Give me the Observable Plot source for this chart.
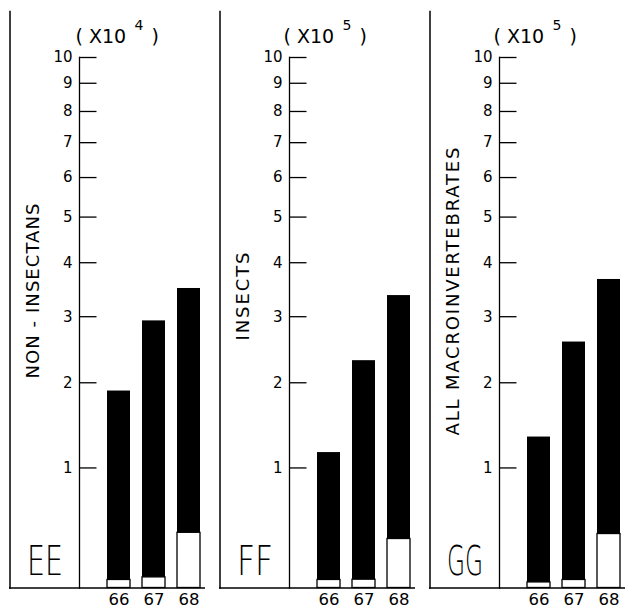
<!DOCTYPE html>
<html><head><meta charset="utf-8">
<script src="https://cdn.jsdelivr.net/npm/d3@7"></script>
<script src="https://cdn.jsdelivr.net/npm/@observablehq/plot@0.6"></script>
<style>
html,body{margin:0;padding:0;background:#fff;overflow:hidden}
#wrap{position:relative;width:625px;height:610px;overflow:hidden}
#wrap svg{position:absolute;top:0;max-width:none}
</style></head><body><div id="wrap"></div>
<script>
const years = ["66", "67", "68"];
const panelLetters = ["EE", "FF", "GG"];
const groupLabels = ["NON - INSECTANS", "INSECTS", "ALL MACROINVERTEBRATES"];
const exponents = ["4", "5", "5"];
const yTicks = [1, 2, 3, 4, 5, 6, 7, 8, 9, 10];
// totals per year (black bars, in units of the panel multiplier)
const totalsEE = [1.89, 2.93, 3.50];
const totalsFF = [1.16, 2.31, 3.37];
const totalsGG = [1.33, 2.59, 3.67];
// lower (white) portion per year
const whitesEE = [0.055, 0.073, 0.41];
const whitesFF = [0.055, 0.057, 0.36];
const whitesGG = [0.038, 0.055, 0.40];

const totals = [totalsEE, totalsFF, totalsGG];
const whites = [whitesEE, whitesFF, whitesGG];
const labelLen = [175, 88, 288];
const labelCenter = [290.5, 296, 291];
const font = "'DejaVu Sans', sans-serif";
const wrap = document.getElementById("wrap");

panelLetters.forEach((letter, i) => {
  const data = years.map((yr, j) => ({year: yr, total: totals[i][j], white: whites[i][j]}));
  const mTop = 57, mBot = 22.5, H = 610;
  const frameMid = (mTop + (H - mBot)) / 2;
  const chart = Plot.plot({
    width: 210, height: H,
    marginLeft: 79, marginRight: 10, marginTop: mTop, marginBottom: mBot,
    style: {fontFamily: font, fontSize: "15px", background: "transparent", color: "#000"},
    x: {domain: years, range: [107, 200.5], paddingInner: 0.33, paddingOuter: 0, label: null, axis: null},
    y: {type: "symlog", constant: 2, domain: [0, 10], label: null, axis: null},
    marks: [
      Plot.barY(data, {x: "year", y1: 0, y2: "total", fill: "#000"}),
      Plot.barY(data, {x: "year", y1: 0, y2: "white", fill: "#fff", stroke: "#000", strokeWidth: 1.3}),
      Plot.text(yTicks, {y: d => d, text: d => String(d), frameAnchor: "left", textAnchor: "end", dx: -7, fontSize: 15}),
      Plot.tickY(yTicks, {y: d => d, insetRight: 103.5, stroke: "#000", strokeWidth: 1.3}),
      Plot.text(years, {x: d => d, text: d => d, frameAnchor: "bottom", lineAnchor: "top", dy: 5, fontSize: 16.5}),
      Plot.frame({anchor: "left", stroke: "#000", strokeWidth: 1.3}),
      Plot.frame({anchor: "left", dx: -69.5, insetTop: -46, stroke: "#000", strokeWidth: 1.5}),
      Plot.ruleY([0], {insetLeft: -70, insetRight: -5, stroke: "#000", strokeWidth: 1.5}),
      Plot.text([groupLabels[i]], {text: d => d, frameAnchor: "left", textAnchor: "middle", lineAnchor: "middle", rotate: -90, dx: -46, dy: labelCenter[i] - frameMid, fontSize: 18}),
      Plot.text(["( X10"], {text: d => d, frameAnchor: "top-left", textAnchor: "start", lineAnchor: "bottom", dx: i === 0 ? -4 : -6, dy: -15, fontSize: 19}),
      Plot.text([exponents[i]], {text: d => d, frameAnchor: "top-left", textAnchor: "start", lineAnchor: "bottom", dx: i === 0 ? 55 : 53, dy: -28, fontSize: 14}),
      Plot.text([")"], {text: d => d, frameAnchor: "top-left", textAnchor: "start", lineAnchor: "bottom", dx: i === 0 ? 72 : 70, dy: -15, fontSize: 19}),
      Plot.text([letter], {text: d => d, frameAnchor: "bottom-left", textAnchor: "start", lineAnchor: "bottom", dx: -52.5, dy: -13.5, fontSize: 40, fontWeight: 200})
    ]
  });
  const svg = d3.select(chart);
  svg.selectAll("text").filter(function () { return this.textContent === letter; })
    .attr("textLength", 36).attr("lengthAdjust", "spacingAndGlyphs");
  svg.selectAll("text").filter(function () { return this.textContent === groupLabels[i]; })
    .attr("textLength", labelLen[i]).attr("lengthAdjust", "spacing");
  chart.style.left = (210 * i) + "px";
  wrap.appendChild(chart);
});
</script>
</body></html>
